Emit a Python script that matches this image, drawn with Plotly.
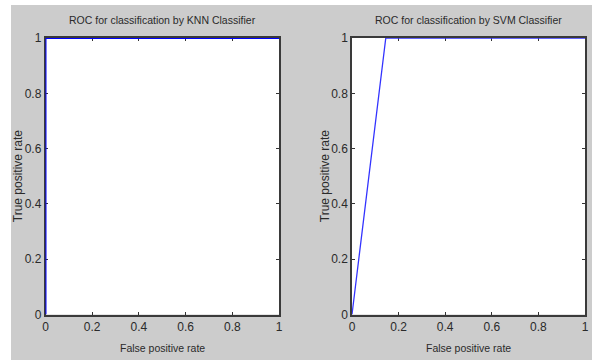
import plotly.graph_objects as go

# Data
knn_fpr = [0.0, 0.0, 1.0]
knn_tpr = [0.0, 1.0, 1.0]
svm_fpr = [0.0, 0.145, 1.0]
svm_tpr = [0.0, 1.0, 1.0]
tick_vals = [0, 0.2, 0.4, 0.6, 0.8, 1]
tick_text = ["0", "0.2", "0.4", "0.6", "0.8", "1"]
titles = ["ROC for classification by KNN Classifier", "ROC for classification by SVM Classifier"]
xlabel = "False positive rate"
ylabel = "True positive rate"

W, H = 592, 360
FONT = "Liberation Sans Narrow, Arial Narrow, Liberation Sans, Arial"
TXT = "#2a2a2a"

def px_x(v):
    return v / W

def px_y(v):
    return 1 - v / H

left_dom = [px_x(45.5), px_x(279)]
right_dom = [px_x(352), px_x(585)]
y_dom = [px_y(314.5), px_y(38)]

fig = go.Figure()
fig.add_trace(go.Scatter(x=knn_fpr, y=knn_tpr, mode="lines", line=dict(color="#0000ff", width=2),
                         xaxis="x", yaxis="y", showlegend=False))
fig.add_trace(go.Scatter(x=svm_fpr, y=svm_tpr, mode="lines", line=dict(color="#3333ff", width=1.3),
                         xaxis="x2", yaxis="y2", showlegend=False))

axis_common = dict(range=[0, 1], tickvals=tick_vals, ticktext=tick_text, ticks="inside", ticklen=3,
                   tickcolor="#333333", showline=True, linecolor="#3a3a3a", linewidth=1.5,
                   mirror="ticks", showgrid=False, zeroline=False, automargin=False,
                   tickfont=dict(family=FONT, size=12, color=TXT), layer="below traces")

fig.update_layout(
    width=W, height=H,
    margin=dict(l=0, r=0, t=0, b=0),
    paper_bgcolor="#cccccc", plot_bgcolor="white",
    xaxis=dict(domain=left_dom, anchor="y", **axis_common),
    yaxis=dict(domain=y_dom, anchor="x", **axis_common),
    xaxis2=dict(domain=right_dom, anchor="y2", **axis_common),
    yaxis2=dict(domain=y_dom, anchor="x2", **axis_common),
    showlegend=False,
)

# white strips at the left and top edges
fig.add_shape(type="rect", xref="paper", yref="paper", x0=0, x1=px_x(11), y0=0, y1=1,
              fillcolor="white", line=dict(width=0), layer="below")
fig.add_shape(type="rect", xref="paper", yref="paper", x0=0, x1=1, y0=px_y(5), y1=1,
              fillcolor="white", line=dict(width=0), layer="below")

for dom, t, ylx in [(left_dom, titles[0], 18), (right_dom, titles[1], 325)]:
    cx = (dom[0] + dom[1]) / 2
    fig.add_annotation(x=cx, y=px_y(20), xref="paper", yref="paper", text=t, showarrow=False,
                       font=dict(family=FONT, size=10.5, color=TXT), xanchor="center", yanchor="middle")
    fig.add_annotation(x=cx, y=px_y(348), xref="paper", yref="paper", text=xlabel, showarrow=False,
                       font=dict(family=FONT, size=10.5, color=TXT), xanchor="center", yanchor="middle")
    fig.add_annotation(x=px_x(ylx), y=(y_dom[0] + y_dom[1]) / 2, xref="paper", yref="paper", text=ylabel,
                       showarrow=False, textangle=-90,
                       font=dict(family="Liberation Sans, Arial", size=12, color=TXT),
                       xanchor="center", yanchor="middle")

fig.write_html("out.html", config={"displayModeBar": False},
               post_script="document.body.style.margin='0';document.body.style.padding='0';")
